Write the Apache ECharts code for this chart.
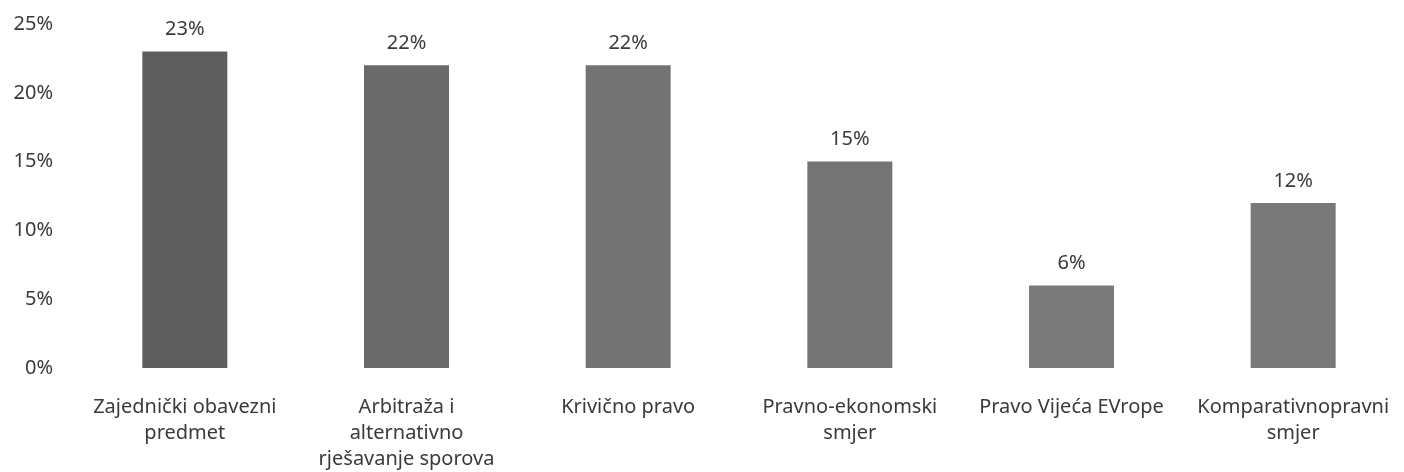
<!DOCTYPE html>
<html>
<head>
<meta charset="utf-8">
<script src="https://cdn.jsdelivr.net/npm/echarts@6/dist/echarts.min.js"></script>
<style>
  html, body { margin: 0; padding: 0; background: #fff; }
  #chart { width: 1404px; height: 472px; }
</style>
</head>
<body>
<div id="chart"></div>
<script>
// podaci
const categories = [
  'Zajednički obavezni\npredmet',
  'Arbitraža i\nalternativno\nrješavanje sporova',
  'Krivično pravo',
  'Pravno-ekonomski\nsmjer',
  'Pravo Vijeća EVrope',
  'Komparativnopravni\nsmjer'
];
const values = [23, 22, 22, 15, 6, 12];
const yTicks = [0, 5, 10, 15, 20, 25];
const barColors = ['#5e5e5e', '#6a6a6a', '#737373', '#747474', '#7b7b7b', '#797979'];

const font = '"Noto Sans", sans-serif';
const chart = echarts.init(document.getElementById('chart'));

const option = {
  animation: false,
  grid: { left: 74, right: -11, top: 24, bottom: 99 },
  xAxis: {
    type: 'category',
    data: categories,
    axisLine: { show: false },
    axisTick: { show: false },
    axisLabel: {
      interval: 0,
      margin: 26,
      fontSize: 20,
      lineHeight: 26,
      color: '#3a3a3a',
      fontFamily: font
    }
  },
  yAxis: {
    type: 'value',
    min: yTicks[0],
    max: yTicks[yTicks.length - 1],
    interval: 5,
    splitLine: { show: false },
    axisLine: { show: false },
    axisTick: { show: false },
    axisLabel: {
      formatter: '{value}%',
      margin: 21,
      fontSize: 20,
      color: '#3a3a3a',
      fontFamily: font
    }
  },
  series: [
    {
      type: 'bar',
      barWidth: 85,
      data: values.map((v, i) => ({ value: v, itemStyle: { color: barColors[i] } })),
      label: {
        show: true,
        position: 'top',
        distance: 12,
        formatter: '{c}%',
        fontSize: 20,
        color: '#3a3a3a',
        fontFamily: font
      }
    }
  ]
};

chart.setOption(option);
</script>
</body>
</html>
